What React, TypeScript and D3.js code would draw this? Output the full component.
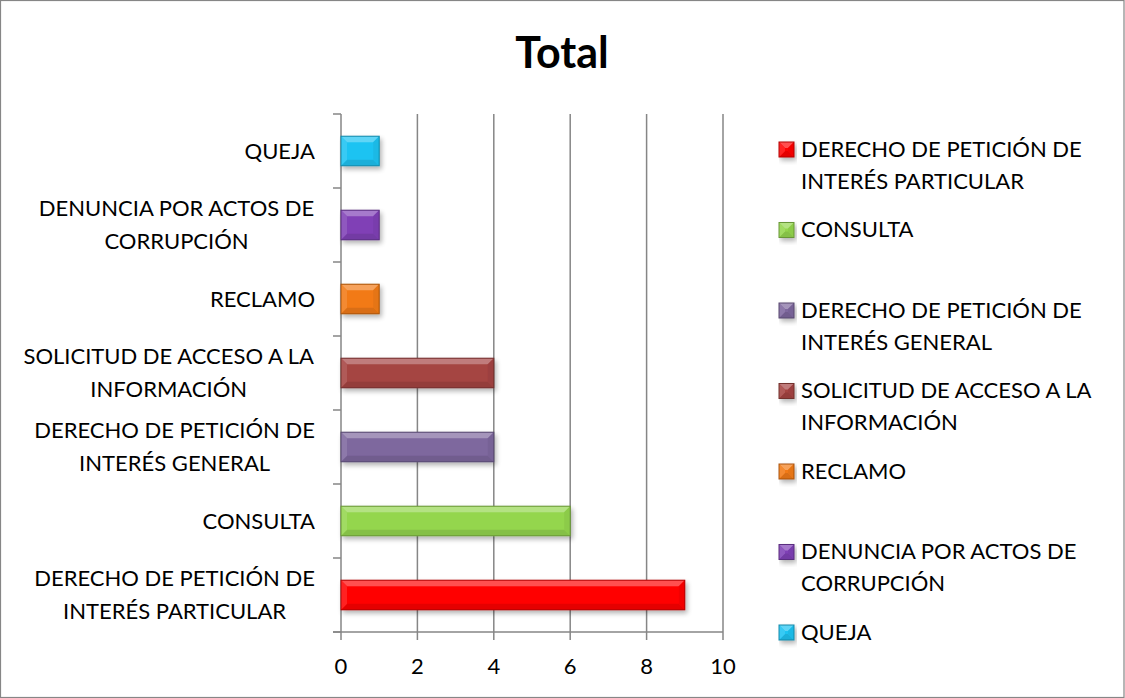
import React from "react";
import * as d3 from "d3";

const categories: string[][] = [
  ["DERECHO DE PETICIÓN DE", "INTERÉS PARTICULAR"],
  ["CONSULTA"],
  ["DERECHO DE PETICIÓN DE", "INTERÉS GENERAL"],
  ["SOLICITUD DE ACCESO A LA", "INFORMACIÓN"],
  ["RECLAMO"],
  ["DENUNCIA POR ACTOS DE", "CORRUPCIÓN"],
  ["QUEJA"],
];
const values: number[] = [9, 6, 4, 4, 1, 1, 1];
const colors: string[] = ["#FF0505", "#94D64E", "#7E679E", "#A54442", "#F27A14", "#8041B6", "#1DC3F2"];
const xTicks: number[] = [0, 2, 4, 6, 8, 10];
const title = "Total";

const W = 1125, H = 698;
const plotLeft = 341, plotRight = 723, plotTop = 114, plotBottom = 632;
const FONT = "Lato, 'Open Sans', sans-serif";
const FS = 22;

function Bevel({ x, y, w, h, color }: { x: number; y: number; w: number; h: number; color: string }) {
  const b = Math.min(6, w / 2, h / 2);
  const c = d3.color(color)!;
  const light = d3.interpolateRgb(color, "#ffffff")(0.3);
  const dark = c.darker(1).formatHex();
  const mid = c.darker(0.3).formatHex();
  const x1 = x + w, y1 = y + h;
  const pts = (a: number[][]) => a.map((p) => p.join(",")).join(" ");
  return (
    <g filter={`url(#shadow)`}>
      <rect x={x} y={y} width={w} height={h} fill={color} />
      <polygon points={pts([[x, y], [x1, y], [x1 - b, y + b], [x + b, y + b]])} fill={light} />
      <polygon points={pts([[x, y1], [x1, y1], [x1 - b, y1 - b], [x + b, y1 - b]])} fill={mid} />
      <polygon points={pts([[x, y], [x + b, y + b], [x + b, y1 - b], [x, y1]])} fill={d3.interpolateRgb(color, "#ffffff")(0.12)} />
      <polygon points={pts([[x1, y], [x1 - b, y + b], [x1 - b, y1 - b], [x1, y1]])} fill={c.darker(0.15).formatHex()} />
      <rect x={x} y={y} width={w} height={h} fill="none" stroke={dark} strokeWidth={1} />
    </g>
  );
}

export default function App() {
  const x = d3.scaleLinear().domain([0, 10]).range([plotLeft, plotRight]);
  const order = d3.range(categories.length);
  const y = d3
    .scaleBand<number>()
    .domain(order.slice().reverse())
    .range([plotTop, plotBottom])
    .paddingInner(0.6)
    .paddingOuter(0.3);
  const step = (plotBottom - plotTop) / categories.length;
  const bounds = d3.range(categories.length + 1).map((i) => plotTop + i * step);

  const canvas = typeof document !== "undefined" ? document.createElement("canvas").getContext("2d") : null;
  const measure = (t: string) => {
    if (!canvas) return t.length * 12;
    canvas.font = `${FS}px Lato`;
    return canvas.measureText(t).width;
  };
  const labelRight = 315;
  const lineH = 33;
  const legendX = 779;
  const legendY0 = 149;
  const legendStep = 80.5;

  return (
    <svg width={W} height={H} style={{ position: "absolute", left: 0, top: 0 }} fontFamily={FONT}>
      <defs>
        <filter id="shadow" x="-10%" y="-30%" width="130%" height="180%">
          <feGaussianBlur in="SourceAlpha" stdDeviation="2.5" />
          <feOffset dx="2" dy="3" result="b" />
          <feComponentTransfer>
            <feFuncA type="linear" slope="0.3" />
          </feComponentTransfer>
          <feMerge>
            <feMergeNode />
            <feMergeNode in="SourceGraphic" />
          </feMerge>
        </filter>
      </defs>
      <rect x={0.5} y={0.5} width={W - 1.5} height={H - 1} fill="#fff" stroke="#868686" strokeWidth={1.2} />
      <text x={562} y={68} textAnchor="middle" fontWeight="bold" fontSize={43} fill="#000">
        {title}
      </text>
      {xTicks.slice(1).map((t) => (
        <line key={t} x1={x(t)} x2={x(t)} y1={plotTop} y2={plotBottom + 8} stroke="#868686" strokeWidth={1.5} />
      ))}
      <line x1={plotLeft} x2={plotLeft} y1={plotTop} y2={plotBottom + 8} stroke="#868686" strokeWidth={1.5} />
      {bounds.map((b, i) => (
        <line key={i} x1={plotLeft - 8} x2={plotLeft} y1={b} y2={b} stroke="#868686" strokeWidth={1.5} />
      ))}
      <line x1={plotLeft - 8} x2={plotRight} y1={plotBottom} y2={plotBottom} stroke="#868686" strokeWidth={1.5} />
      {xTicks.map((t) => (
        <text key={t} x={x(t)} y={plotBottom + 42} textAnchor="middle" fontSize={FS} fill="#000">
          {t}
        </text>
      ))}
      {order.map((i) => (
        <Bevel key={i} x={x(0)} y={y(i)!} w={x(values[i]) - x(0)} h={y.bandwidth()} color={colors[i]} />
      ))}
      {order.map((i) => {
        const lines = categories[i];
        const cy = y(i)! + y.bandwidth() / 2;
        const maxW = Math.max(...lines.map(measure));
        const cx = labelRight - maxW / 2;
        return lines.map((ln, j) => (
          <text
            key={`${i}-${j}`}
            x={cx}
            y={cy + (j - (lines.length - 1) / 2) * lineH + FS * 0.36}
            textAnchor="middle"
            fontSize={FS}
            fill="#000"
          >
            {ln}
          </text>
        ));
      })}
      {order.map((i) => {
        const ly = legendY0 + i * legendStep;
        return (
          <g key={i}>
            <Bevel x={legendX} y={ly - 7} w={15} h={15} color={colors[i]} />
            {categories[i].map((ln, j) => (
              <text key={j} x={801} y={ly + j * 32 + FS * 0.36} fontSize={FS} fill="#000">
                {ln}
              </text>
            ))}
          </g>
        );
      })}
    </svg>
  );
}
